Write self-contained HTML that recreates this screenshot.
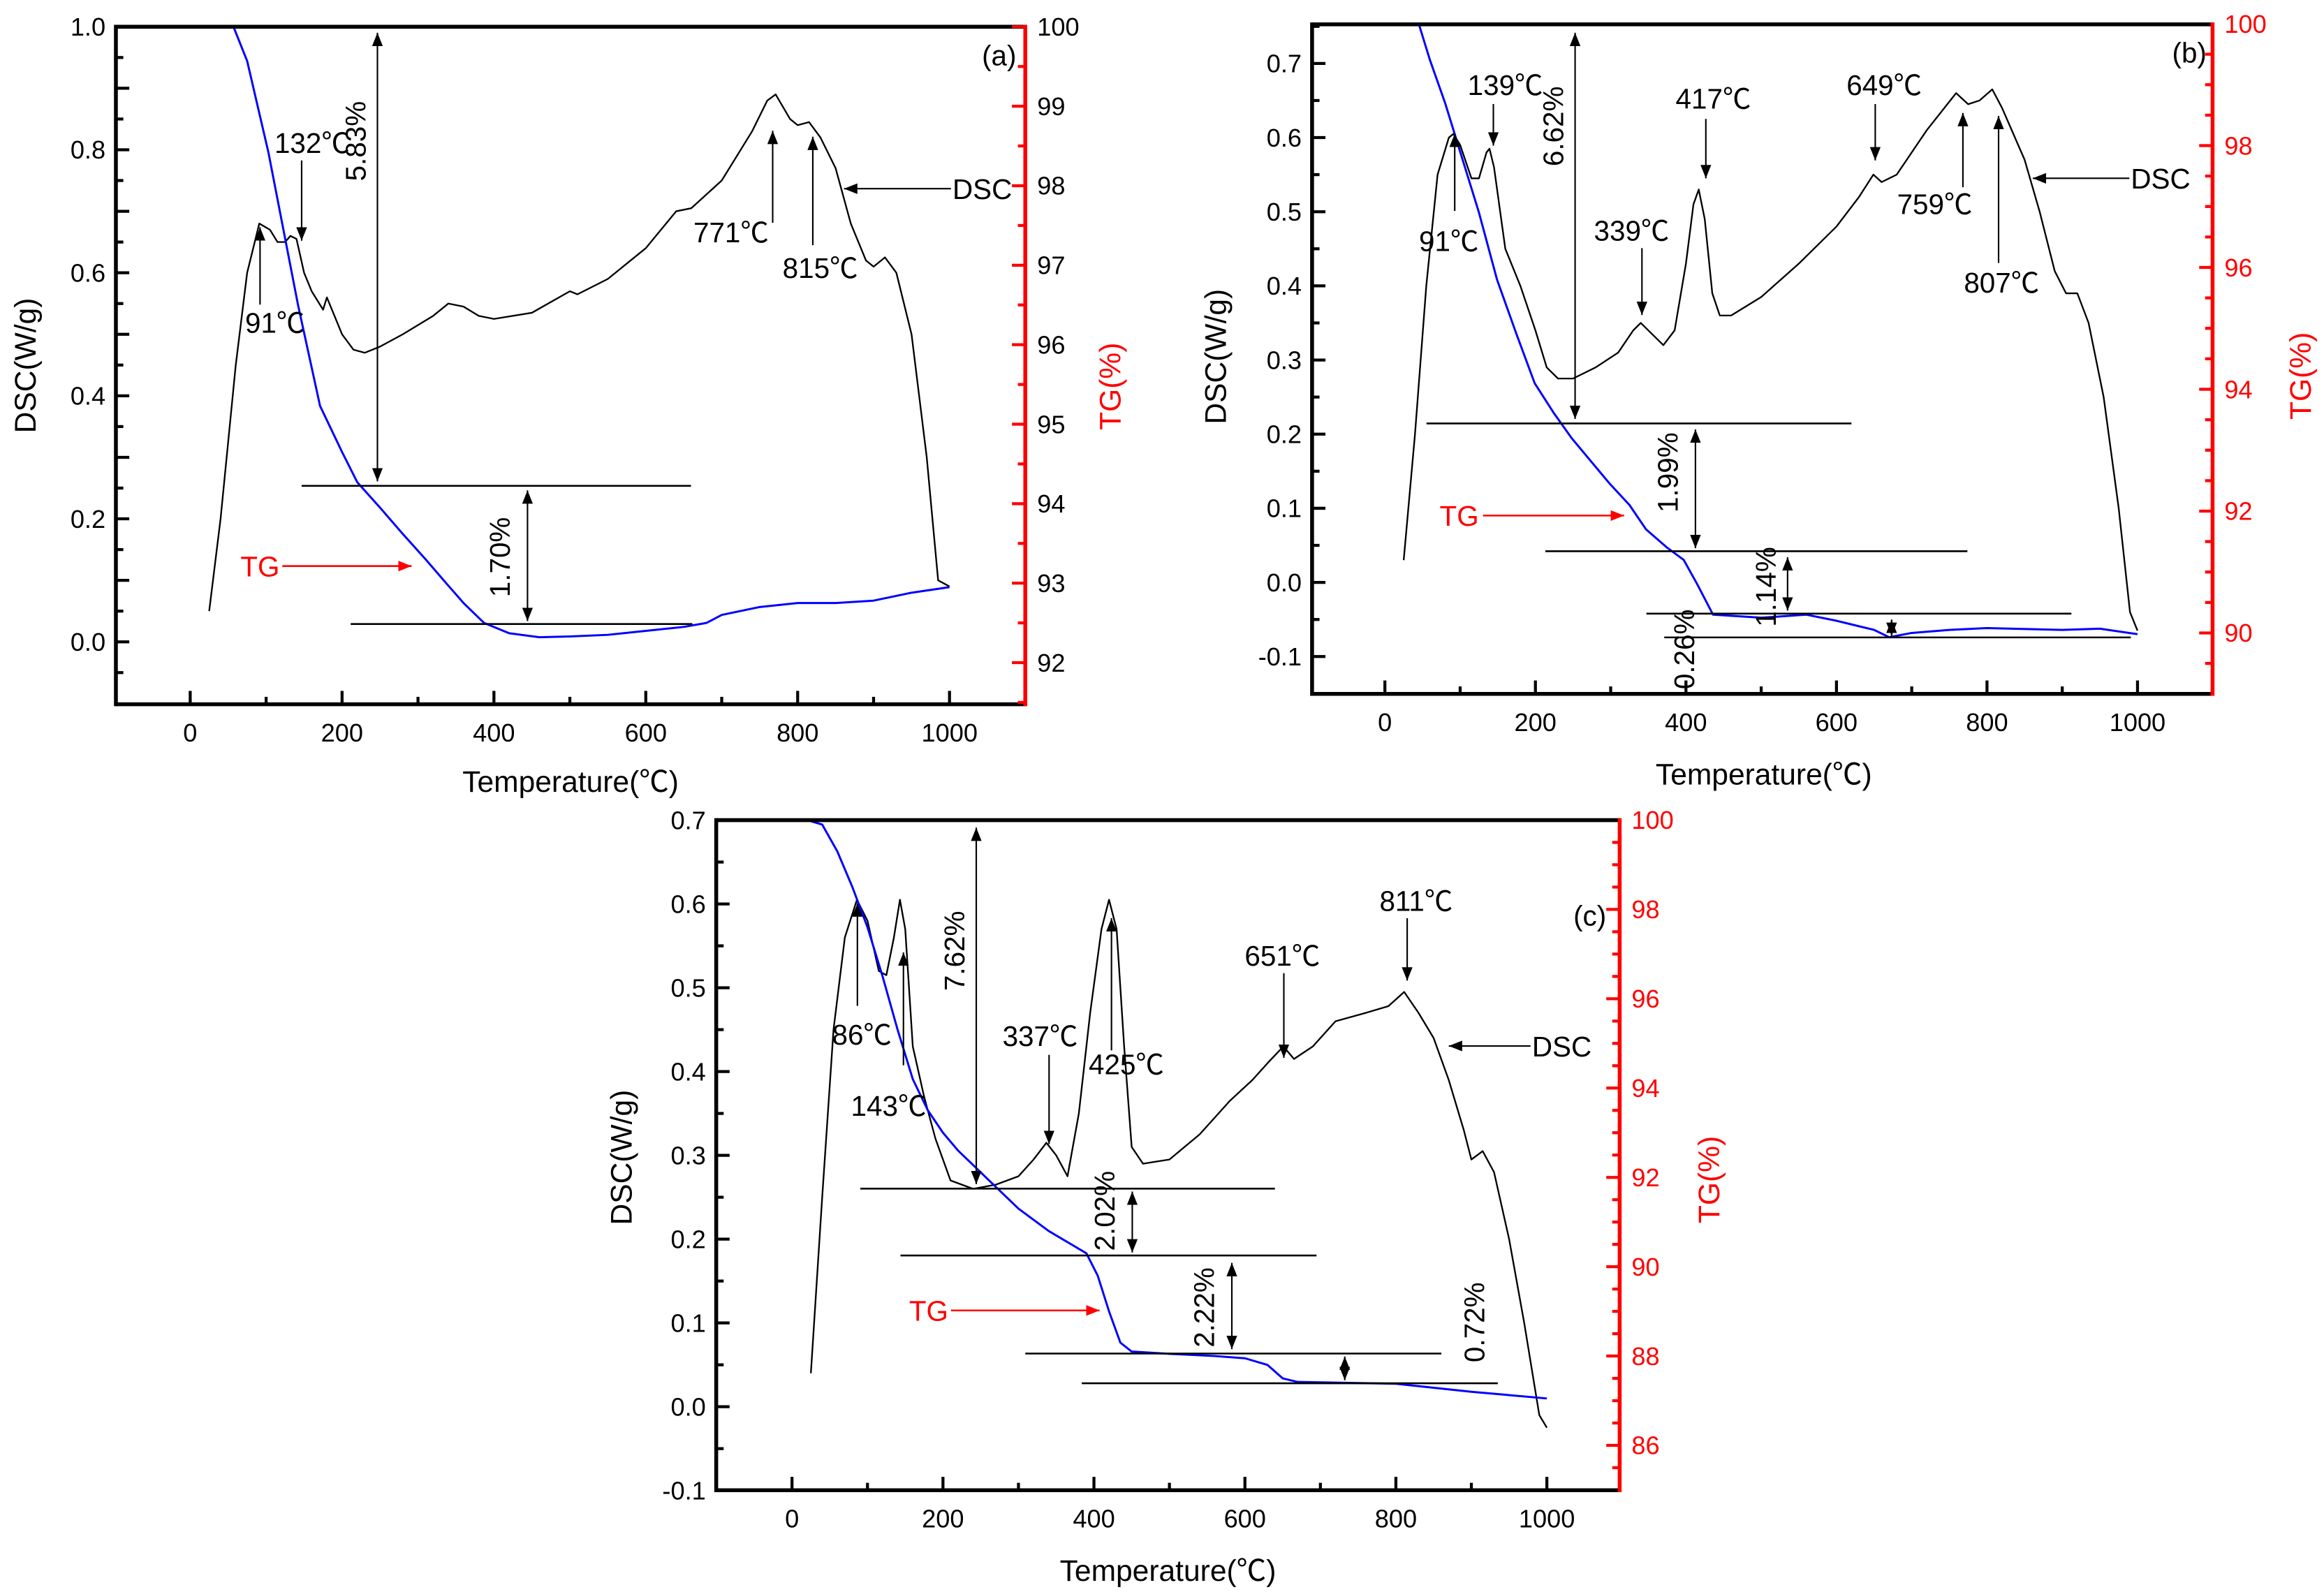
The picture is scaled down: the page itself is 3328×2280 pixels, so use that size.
<!DOCTYPE html>
<html><head><meta charset="utf-8"><style>
html,body{margin:0;padding:0;background:#fff;}
svg{display:block;}
text{font-family:"Liberation Sans","Noto Sans CJK SC",sans-serif;}
</style></head><body>
<svg id="fig" xmlns="http://www.w3.org/2000/svg" width="3328" height="2280" viewBox="0 0 1564 1071.5" preserveAspectRatio="none">
<defs>
<marker id="ah" viewBox="0 0 10 10" refX="10" refY="5" markerWidth="9" markerHeight="9" markerUnits="userSpaceOnUse" orient="auto-start-reverse"><path d="M0,1 L10,5 L0,9 z" fill="#000"/></marker>
<marker id="ahr" viewBox="0 0 10 10" refX="10" refY="5" markerWidth="9" markerHeight="9" markerUnits="userSpaceOnUse" orient="auto"><path d="M0,1 L10,5 L0,9 z" fill="#f00"/></marker>
</defs>
</svg>
<script>
// ---------- data: panel (a) ----------
const aDscT=[25,40,60,75,91,105,115,125,132,140,150,160,170,175,180,190,200,215,230,250,280,320,340,360,380,400,450,500,510,550,600,640,660,700,740,760,771,790,800,815,830,850,870,890,900,915,930,950,970,985,1000];
const aDscV=[0.05,0.2,0.45,0.6,0.68,0.67,0.65,0.65,0.66,0.655,0.6,0.57,0.55,0.54,0.56,0.53,0.5,0.475,0.47,0.48,0.5,0.53,0.55,0.545,0.53,0.525,0.535,0.57,0.565,0.59,0.64,0.7,0.705,0.75,0.83,0.88,0.89,0.85,0.84,0.845,0.82,0.77,0.68,0.62,0.61,0.625,0.6,0.5,0.3,0.1,0.09];
const aTgT=[23,57,75,103,142,171,200,220,250,279,310,338,360,387,420,460,500,550,600,650,680,700,750,800,850,900,950,1000];
const aTgV=[100.3,100,99.57,98.42,96.5,95.23,94.65,94.27,93.95,93.63,93.3,92.99,92.75,92.5,92.37,92.32,92.33,92.35,92.4,92.45,92.5,92.6,92.7,92.75,92.75,92.78,92.88,92.95];
// ---------- data: panel (b) ----------
const bDscT=[25,40,55,70,85,91,100,115,125,135,139,145,160,180,200,215,230,250,280,310,330,340,355,370,385,400,410,417,425,435,445,460,500,550,600,630,649,660,680,720,759,775,790,807,820,850,870,890,905,920,935,955,975,990,1000];
const bDscV=[0.03,0.2,0.4,0.55,0.6,0.605,0.59,0.545,0.545,0.58,0.585,0.56,0.45,0.4,0.34,0.29,0.275,0.275,0.29,0.31,0.34,0.35,0.335,0.32,0.34,0.43,0.51,0.53,0.49,0.39,0.36,0.36,0.385,0.43,0.48,0.52,0.55,0.54,0.55,0.61,0.66,0.645,0.65,0.665,0.64,0.57,0.5,0.42,0.39,0.39,0.35,0.25,0.1,-0.04,-0.065];
const bTgT=[20,45,60,80,100,125,149,175,199,225,248,275,298,325,347,375,397,415,436,500,560,600,650,670,700,750,800,900,950,1000];
const bTgV=[100.1,100,99.4,98.7,97.9,96.9,95.8,94.9,94.1,93.6,93.2,92.8,92.46,92.1,91.7,91.4,91.2,90.8,90.3,90.25,90.3,90.2,90.05,89.93,90.0,90.05,90.08,90.05,90.07,89.98];
// ---------- data: panel (c) ----------
const cDscT=[25,40,55,70,86,100,115,125,135,143,150,160,175,190,210,240,270,300,320,337,350,365,380,395,410,420,430,440,450,465,500,540,580,610,630,651,665,690,720,760,790,811,830,850,870,890,900,915,930,950,970,990,1000];
const cDscV=[0.04,0.25,0.45,0.56,0.605,0.58,0.52,0.515,0.56,0.605,0.57,0.43,0.37,0.32,0.27,0.26,0.265,0.275,0.295,0.315,0.3,0.275,0.35,0.47,0.57,0.605,0.57,0.43,0.31,0.29,0.295,0.325,0.365,0.39,0.41,0.43,0.415,0.43,0.46,0.47,0.478,0.495,0.47,0.44,0.39,0.33,0.295,0.305,0.28,0.2,0.1,-0.01,-0.025];
const cTgT=[20,40,60,80,100,120,140,160,180,200,220,260,300,340,370,390,405,420,435,450,500,560,600,630,650,670,800,900,1000];
const cTgV=[100,99.9,99.3,98.5,97.6,96.5,95.3,94.2,93.5,93.0,92.6,91.95,91.3,90.8,90.5,90.3,89.8,89.0,88.3,88.1,88.05,88.0,87.95,87.8,87.5,87.42,87.38,87.2,87.05];
// ---------- tick labels ----------
const xTicks=[0,200,400,600,800,1000];
const aLeftTicks=[0.0,0.2,0.4,0.6,0.8,1.0];
const aRightTicks=[92,93,94,95,96,97,98,99,100];
const bLeftTicks=[-0.1,0.0,0.1,0.2,0.3,0.4,0.5,0.6,0.7];
const bRightTicks=[90,92,94,96,98,100];
const cLeftTicks=[-0.1,0.0,0.1,0.2,0.3,0.4,0.5,0.6,0.7];
const cRightTicks=[86,88,90,92,94,96,98,100];

const NS="http://www.w3.org/2000/svg";
const svg=document.getElementById('fig');
function mk(tag,attrs,parent){const e=document.createElementNS(NS,tag);for(const k in attrs)e.setAttribute(k,attrs[k]);(parent||svg).appendChild(e);return e;}

function panel(p){
  const g=mk('g',{});
  
  
  const X=t=>p.x0+p.xk*t;
  const YD=v=>p.d0+p.dk*v;
  const YT=v=>p.t0+p.tk*v;
  const cp=mk('clipPath',{id:'clip'+p.id},g);
  mk('rect',{x:p.L,y:p.T,width:p.R-p.L,height:p.B-p.T},cp);
  let d='';p.dscT.forEach((t,i)=>{d+=(i?'L':'M')+X(t).toFixed(2)+','+YD(p.dscV[i]).toFixed(2);});
  const dsc=mk('path',{d:d,fill:'none',stroke:'#000','stroke-width':1.1,'stroke-linejoin':'round','clip-path':'url(#clip'+p.id+')'},g);
  
  
  d='';p.tgT.forEach((t,i)=>{d+=(i?'L':'M')+X(t).toFixed(2)+','+YT(p.tgV[i]).toFixed(2);});
  const tg=mk('path',{d:d,fill:'none',stroke:'#0000ff','stroke-width':1.4,'stroke-linejoin':'round','clip-path':'url(#clip'+p.id+')'},g);
  
  
  mk('line',{x1:p.L,y1:p.T,x2:p.R,y2:p.T,stroke:'#000','stroke-width':2.6},g);
  mk('line',{x1:p.L,y1:p.B,x2:p.R,y2:p.B,stroke:'#000','stroke-width':2.6},g);
  mk('line',{x1:p.L,y1:p.T-1.3,x2:p.L,y2:p.B+1.3,stroke:'#000','stroke-width':2.6},g);
  mk('line',{x1:p.R,y1:p.T-1.3,x2:p.R,y2:p.B+1.3,stroke:'#f00','stroke-width':2.6},g);
  for(let t=-100;t<=1100;t+=100){const x=X(t);if(x<p.L+2||x>p.R-2)continue;const maj=t%200===0;
    mk('line',{x1:x,y1:p.B,x2:x,y2:p.B-(maj?9:5),stroke:'#000','stroke-width':2},g);}
  xTicks.forEach(t=>{const tx=mk('text',{x:X(t),y:p.B+25,'font-size':17,'text-anchor':'middle'},g);tx.textContent=t;
    });
  for(let v=Math.round(p.dmin*20);v<=Math.round(p.dmax*20);v++){const y=YD(v/20);if(y<p.T+1||y>p.B-1)continue;const maj=v%2===0;
    mk('line',{x1:p.L,y1:y,x2:p.L+(maj?9:5),y2:y,stroke:'#000','stroke-width':2},g);}
  p.left.forEach(v=>{const tx=mk('text',{x:p.L-7,y:YD(v)+6,'font-size':17,'text-anchor':'end'},g);tx.textContent=v.toFixed(1);
    });
  for(let v=Math.round(p.tmin*2);v<=Math.round(p.tmax*2);v++){const y=YT(v/2);if(y<p.T||y>p.B-1)continue;const maj=(v%(p.tstep*2)===0);
    mk('line',{x1:p.R,y1:y,x2:p.R-(maj?9:5),y2:y,stroke:'#f00','stroke-width':2},g);}
  p.right.forEach(v=>{const tx=mk('text',{x:p.R+8,y:YT(v)+6,'font-size':17,fill:p.rcol},g);tx.textContent=v;
    });
  let t1=mk('text',{x:p.xt[0],y:p.xt[1],'font-size':20,'text-anchor':'middle'},g);t1.textContent='Temperature(℃)';
  
  let t2=mk('text',{x:0,y:0,'font-size':20,'text-anchor':'middle',transform:`translate(${p.yl[0]},${p.yl[1]}) rotate(-90)`},g);t2.textContent='DSC(W/g)';
  
  let t3=mk('text',{x:0,y:0,'font-size':20,'text-anchor':'middle',fill:'#f00',transform:`translate(${p.yr[0]},${p.yr[1]}) rotate(-90)`},g);t3.textContent='TG(%)';
  
  let t4=mk('text',{x:p.lab[0],y:p.lab[1],'font-size':19,'text-anchor':'end'},g);t4.textContent='('+p.id+')';
  
  p.hl.forEach(h=>mk('line',{x1:h[1],y1:h[0],x2:h[2],y2:h[0],stroke:'#000','stroke-width':1.2},g));
  p.dbl.forEach(a=>{mk('line',{x1:a[0],y1:a[1],x2:a[0],y2:a[2],stroke:'#000','stroke-width':1,'marker-start':'url(#ah)','marker-end':'url(#ah)'},g);
    const tx=mk('text',{x:0,y:0,'font-size':19,'text-anchor':'middle',transform:`translate(${a[4]},${a[5]}) rotate(-90)`},g);tx.textContent=a[3];
    });
  p.arr.forEach(a=>{mk('line',{x1:a[0],y1:a[1],x2:a[2],y2:a[3],stroke:'#000','stroke-width':1,'marker-end':'url(#ah)'},g);
    if(a[4]){const tx=mk('text',{x:a[5],y:a[6],'font-size':19,'text-anchor':'middle'},g);tx.textContent=a[4];
      }});
  mk('line',{x1:p.dscp[0],y1:p.dscp[2],x2:p.dscp[1],y2:p.dscp[2],stroke:'#000','stroke-width':1,'marker-end':'url(#ah)'},g);
  let t5=mk('text',{x:p.dscp[0]+1,y:p.dscp[2]+7,'font-size':19},g);t5.textContent='DSC';
  
  mk('line',{x1:p.tgp[1],y1:p.tgp[3],x2:p.tgp[2],y2:p.tgp[3],stroke:'#f00','stroke-width':1.2,'marker-end':'url(#ahr)'},g);
  let t6=mk('text',{x:p.tgp[0],y:p.tgp[3]+7,'font-size':19,fill:'#f00','text-anchor':'middle'},g);t6.textContent='TG';
  
}

panel({id:'a',L:78,R:690,T:18,B:474,x0:128,xk:0.511,d0:432,dk:-414,t0:446+53.5*92,tk:-53.5,
  dmin:-0.1,dmax:1.0,tmin:91.5,tmax:100,tstep:1,rcol:'#000',
  dscT:aDscT,dscV:aDscV,tgT:aTgT,tgV:aTgV,left:aLeftTicks,right:aRightTicks,
  xt:[384,533],yl:[24,246],yr:[754,260],lab:[684,44],
  hl:[[327,203,465],[420,236,466]],
  dbl:[[254,22,324,'5.83%',246,95],[355,330,418,'1.70%',343,375]],
  arr:[[175,205,175,153,'91℃',185,224],[203,108,203,162,'132℃',210,103],[520,150,520,88,'771℃',492,163],[547,165,547,92,'815℃',552,187]],
  dscp:[640,568,127],tgp:[175,190,277,381]});
panel({id:'b',L:883,R:1489,T:16.4,B:467,x0:932,xk:0.5065,d0:392,dk:-499,t0:426+41*90,tk:-41,
  dmin:-0.15,dmax:0.75,tmin:89,tmax:100,tstep:2,rcol:'#f00',
  dscT:bDscT,dscV:bDscV,tgT:bTgT,tgV:bTgV,left:bLeftTicks,right:bRightTicks,
  xt:[1187,528],yl:[825,240],yr:[1555,253],lab:[1485,42],
  hl:[[285,960,1246],[371,1040,1324],[413,1108,1394],[429,1120,1434]],
  dbl:[[1060,22,282,'6.62%',1052,85],[1141,289,369,'1.99%',1129,318],[1203,375,411,'1.14%',1195,395],[1273,417,428,'0.26%',1140,437]],
  arr:[[1005,70,1005,98,'139℃',1013,64],[979,142,979,90,'91℃',975,169],[1148,80,1148,120,'417℃',1153,73],[1105,167,1105,212,'339℃',1098,162],[1262,70,1262,108,'649℃',1268,64],[1321,126,1321,76,'759℃',1302,144],[1345,177,1345,78,'807℃',1347,197]],
  dscp:[1433,1368,120],tgp:[982,998,1093,347]});
panel({id:'c',L:482,R:1090,T:552,B:1003,x0:533,xk:0.508,d0:552+564*0.7,dk:-564,t0:972.8+30.06*86,tk:-30.06,
  dmin:-0.1,dmax:0.7,tmin:85,tmax:100,tstep:2,rcol:'#f00',
  dscT:cDscT,dscV:cDscV,tgT:cTgT,tgV:cTgV,left:cLeftTicks,right:cRightTicks,
  xt:[786,1064],yl:[425,779],yr:[1157,794],lab:[1081,623],
  hl:[[800,579,858],[845,606,886],[911,690,970],[931,728,1008]],
  dbl:[[657,557,797,'7.62%',649,640],[762,802,843,'2.02%',750,815],[829,850,908,'2.22%',817,880],[905,913,929,'0.72%',999,890]],
  arr:[[577,677,577,608,'86℃',580,703],[608,717,608,641,'143℃',598,751],[706,710,706,770,'337℃',700,704],[748,707,748,618,'425℃',758,723],[864,655,864,712,'651℃',863,650],[947,618,947,660,'811℃',953,613]],
  dscp:[1030,975,704],tgp:[625,640,740,882]});
</script>
</body></html>
